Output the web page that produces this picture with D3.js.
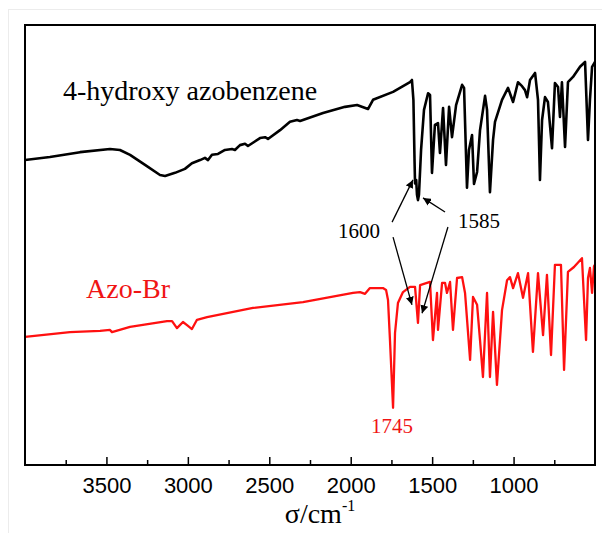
<!DOCTYPE html>
<html><head><meta charset="utf-8">
<script src="https://cdn.jsdelivr.net/npm/d3@7"></script>
<style>body{margin:0;background:#fff;} svg{display:block;}</style>
</head><body>
<svg id="c" width="602" height="533"></svg>
<script>
// wavenumber (cm-1), transmittance (a.u.)
const blackWn = [4000,3847,3662,3478,3417,3355,3263,3171,3140,3079,3018,2975,2925,2895,2876,2852,2815,2772,2729,2711,2680,2649,2631,2557,2526,2508,2434,2373,2330,2311,2170,2035,1961,1894,1863,1740,1636,1624,1615,1608,1605,1598,1593,1587,1581,1568,1550,1525,1513,1501,1483,1464,1452,1433,1415,1396,1378,1353,1316,1304,1286,1274,1255,1243,1224,1206,1175,1163,1145,1126,1114,1071,1034,1003,973,948,930,917,899,868,850,838,825,807,789,764,746,727,715,703,684,666,635,592,561,543,531,518,500];
const blackT  = [69.3,70.0,71.1,71.8,71.6,70.5,68.2,65.9,65.7,66.4,67.3,68.6,69.3,69.8,69.3,70.5,70.7,71.6,71.8,71.6,72.7,73.0,72.5,74.3,74.5,74.1,76.1,78.0,78.4,78.2,80.0,81.4,81.8,80.9,83.0,84.8,87.0,87.5,83.0,69.0,64.0,64.8,61.4,60.2,61.4,71.6,80.7,84.5,84.1,66.4,77.3,77.7,70.9,81.1,68.2,81.4,74.5,81.8,86.4,85.7,63.0,71.6,75.0,63.9,66.6,76.1,83.9,80.7,62.0,73.9,78.0,83.0,85.7,82.5,87.0,86.1,85.2,83.6,87.5,89.1,83.0,64.8,78.4,83.6,82.5,72.0,86.8,85.9,79.1,87.0,72.3,87.0,88.2,90.5,91.6,73.9,83.0,90.5,91.6];

const redWn = [4000,3724,3539,3478,3466,3355,3128,3097,3067,3030,3005,2975,2944,2882,2600,2293,1986,1943,1912,1882,1802,1783,1771,1759,1740,1728,1710,1679,1636,1605,1587,1574,1513,1495,1470,1464,1439,1421,1409,1390,1372,1347,1316,1298,1267,1249,1224,1206,1188,1163,1145,1126,1102,1071,1040,1022,1003,973,942,911,881,850,819,795,770,746,709,690,666,629,580,555,543,531,518,506,500];
const redT  = [29.1,30.2,30.5,30.7,30.2,31.4,32.7,32.7,31.1,32.5,31.8,30.9,33.0,33.6,35.7,37.0,39.1,39.3,38.9,40.2,40.2,39.8,37.5,28.4,13.0,30.0,36.8,39.3,40.5,40.5,32.3,40.9,41.6,28.4,39.1,30.7,41.4,41.4,39.1,41.6,30.7,42.5,42.7,39.1,23.9,38.2,36.4,28.4,20.0,39.1,20.0,34.8,18.2,35.2,42.0,42.7,40.2,43.6,38.0,43.6,25.7,43.6,29.5,43.2,25.0,45.5,45.5,21.6,43.9,45.0,47.0,28.4,42.5,44.8,39.1,45.2,45.5];

const majorTicks = [3500,3000,2500,2000,1500,1000];
const minorTicks = [3750,3250,2750,2250,1750,1250,750];

const seriesLabels = [
  {text:"4-hydroxy azobenzene", wn:3767, t:83.0, color:"#000"},
  {text:"Azo-Br", wn:3625, t:38.0, color:"#f01414"}
];
const peakLabels = [
  {text:"1600", wn:1949, t:51.6, color:"#000"},
  {text:"1585", wn:1212, t:53.9, color:"#000"},
  {text:"1745", wn:1746, t:7.3, color:"#f01414"}
];
const arrows = [
  {x1:1746, y1:55.2, x2:1618, y2:64.8},
  {x1:1740, y1:51.8, x2:1624, y2:36.4},
  {x1:1421, y1:57.5, x2:1556, y2:60.7},
  {x1:1403, y1:54.1, x2:1562, y2:34.5}
];

const svg = d3.select("#c");
const L=25, R=595, T=25, B=465;
const x = d3.scaleLinear().domain([4000,500]).range([L,R]);
const y = d3.scaleLinear().domain([0,100]).range([B,T]);

// faint outer border
svg.append("rect").attr("x",8.5).attr("y",9.5).attr("width",600).attr("height",530)
  .attr("fill","none").attr("stroke","#ececec").attr("stroke-width",1);

const defs = svg.append("defs");
defs.append("clipPath").attr("id","clip")
  .append("rect").attr("x",L).attr("y",T).attr("width",R-L).attr("height",B-T);
defs.append("marker").attr("id","ah").attr("viewBox","0 0 10 10").attr("refX",10).attr("refY",5)
  .attr("markerWidth",8).attr("markerHeight",8).attr("markerUnits","userSpaceOnUse").attr("orient","auto")
  .append("path").attr("d","M0,0 L10,5 L0,10 Z").attr("fill","#000");

const line = d3.line().x(d=>x(d[0])).y(d=>y(d[1]));
const g = svg.append("g").attr("clip-path","url(#clip)");
g.append("path").datum(redWn.map((w,i)=>[w,redT[i]]))
  .attr("d",line).attr("fill","none").attr("stroke","#ff1010").attr("stroke-width",2.3).attr("stroke-linejoin","round");
g.append("path").datum(blackWn.map((w,i)=>[w,blackT[i]]))
  .attr("d",line).attr("fill","none").attr("stroke","#000").attr("stroke-width",2.6).attr("stroke-linejoin","round");

// frame
svg.append("rect").attr("x",L).attr("y",T).attr("width",R-L).attr("height",B-T)
  .attr("fill","none").attr("stroke","#000").attr("stroke-width",2);

// axes
const ax = svg.append("g").attr("transform",`translate(0,${B})`)
  .call(d3.axisBottom(x).tickValues(majorTicks).tickSize(-8).tickPadding(12).tickFormat(d3.format("d")));
ax.select(".domain").remove();
ax.selectAll(".tick line").attr("stroke","#000").attr("stroke-width",1.5);
ax.selectAll("text").attr("font-family","'Liberation Sans', Arial, sans-serif").attr("font-size",22).attr("fill","#000");
const axm = svg.append("g").attr("transform",`translate(0,${B})`)
  .call(d3.axisBottom(x).tickValues(minorTicks).tickSize(-5).tickFormat(""));
axm.select(".domain").remove();
axm.selectAll(".tick line").attr("stroke","#000").attr("stroke-width",1.5);

// axis title
const tt = svg.append("text").attr("x",320).attr("y",523).attr("text-anchor","middle")
  .attr("font-family","'Liberation Serif', 'Times New Roman', serif").attr("font-size",28).attr("fill","#000");
tt.append("tspan").text("σ/cm");
tt.append("tspan").attr("font-size",16).attr("dy",-12).text("-1");

// labels
svg.selectAll("text.sl").data(seriesLabels).join("text").attr("class","sl")
  .attr("x",d=>x(d.wn)).attr("y",d=>y(d.t)).attr("fill",d=>d.color)
  .attr("font-family","'Liberation Serif', 'Times New Roman', serif").attr("font-size",28).text(d=>d.text);
svg.selectAll("text.pl").data(peakLabels).join("text").attr("class","pl")
  .attr("x",d=>x(d.wn)).attr("y",d=>y(d.t)).attr("fill",d=>d.color).attr("text-anchor","middle")
  .attr("font-family","'Liberation Serif', 'Times New Roman', serif").attr("font-size",21).text(d=>d.text);

svg.selectAll("line.ar").data(arrows).join("line").attr("class","ar")
  .attr("x1",d=>x(d.x1)).attr("y1",d=>y(d.y1)).attr("x2",d=>x(d.x2)).attr("y2",d=>y(d.y2))
  .attr("stroke","#000").attr("stroke-width",1.3).attr("marker-end","url(#ah)");
</script>
</body></html>
